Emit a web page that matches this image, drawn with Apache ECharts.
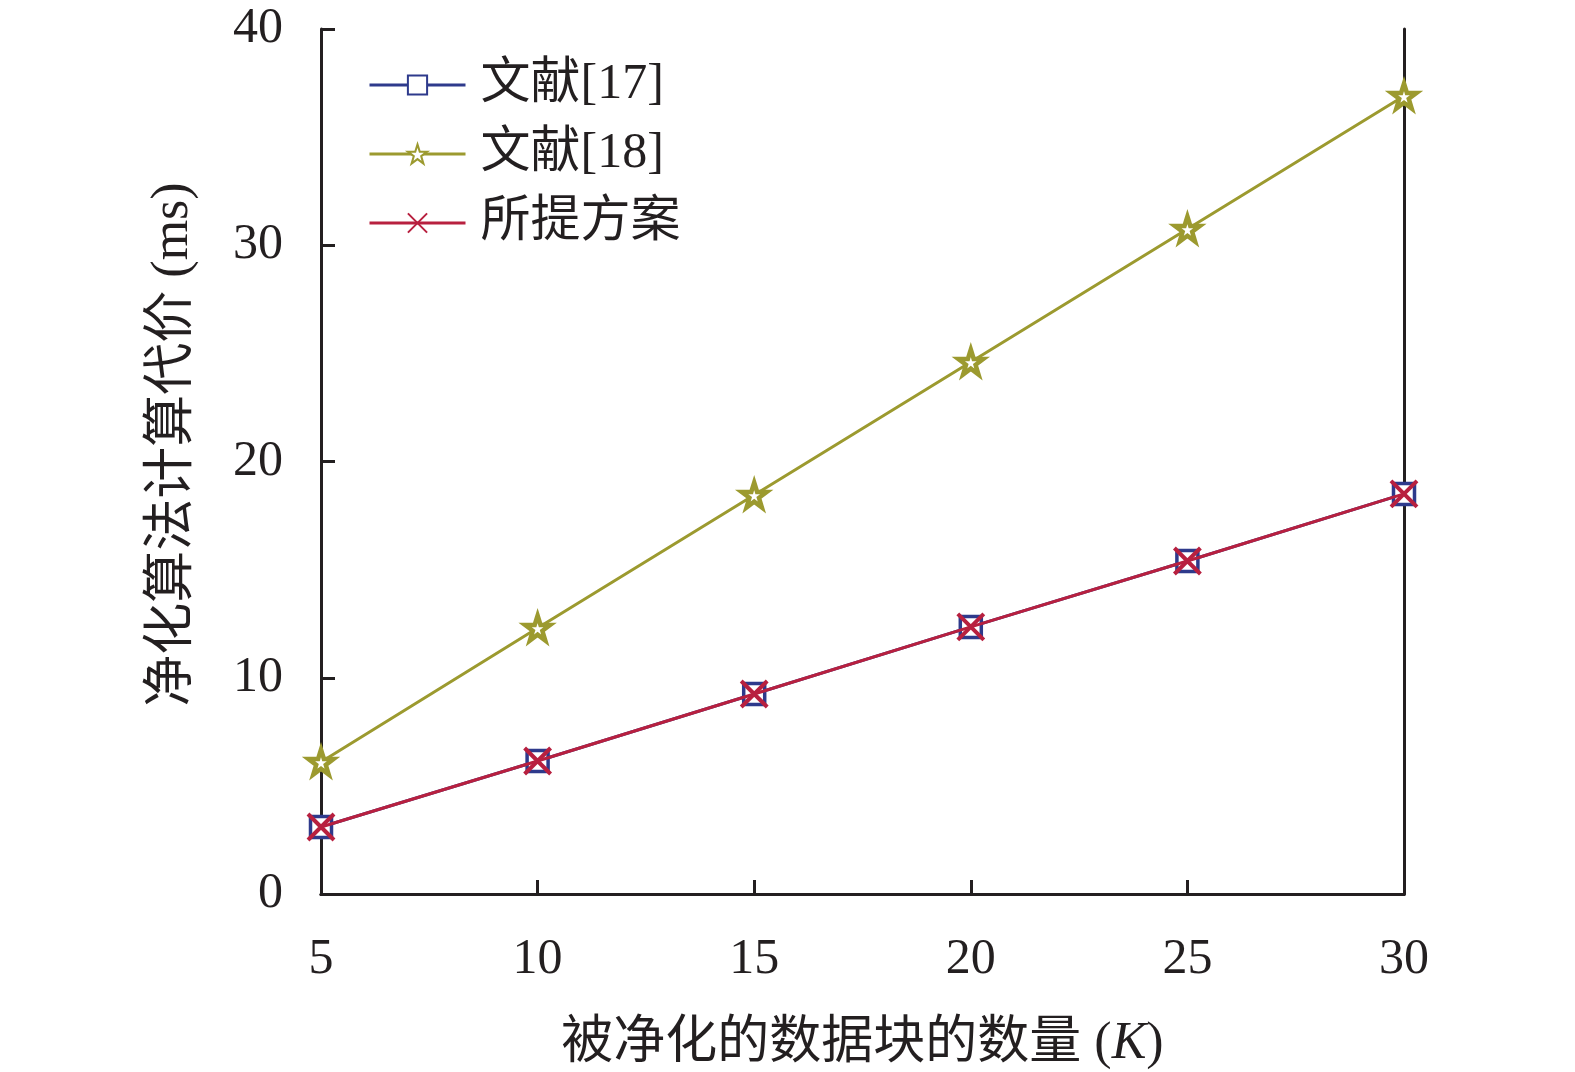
<!DOCTYPE html>
<html>
<head>
<meta charset="utf-8">
<script src="https://cdn.jsdelivr.net/npm/echarts@6/dist/echarts.min.js"></script>
<style>
  html, body { margin: 0; padding: 0; background: #fff; overflow: hidden; }
  #chart { width: 1575px; height: 1072px; }
</style>
</head>
<body>
<div id="chart"></div>
<script>
// 被净化的数据块的数量 (K)
const blockCounts = [5, 10, 15, 20, 25, 30]
// 净化算法计算代价 (ms)
const ref17 = [3.1, 6.15, 9.25, 12.35, 15.4, 18.5]
const ref18 = [6.1, 12.3, 18.45, 24.6, 30.75, 36.9]
const proposed = [3.1, 6.15, 9.25, 12.35, 15.4, 18.5]

const serif = '"Liberation Serif", "Times New Roman", "Noto Sans CJK SC", serif'
const starPath = 'path://M50,2 L61,36 L97,36 L68,57 L79,92 L50,71 L21,92 L32,57 L3,36 L39,36 Z'
const crossPath = 'path://M0,0 L10,10 M10,0 L0,10'
const ink = '#231f20'

const pairs = (ys) => blockCounts.map((x, i) => [x, ys[i]])

const myChart = echarts.init(document.getElementById('chart'))
myChart.setOption({
    backgroundColor: '#fff',
    animation: false,
    grid: { left: 321, right: 171, top: 29, bottom: 178, outerBoundsMode: 'none' },
    legend: {
        orient: 'vertical',
        left: 363,
        top: 55,
        itemWidth: 96,
        itemHeight: 24,
        itemGap: 19,
        lineStyle: { width: 3 },
        textStyle: { fontFamily: serif, fontSize: 50, color: ink, lineHeight: 50, padding: [0, 0, 0, 10] },
        data: ['文献[17]', '文献[18]', '所提方案']
    },
    xAxis: [
        {
            type: 'value',
            min: 5,
            max: 30,
            interval: 5,
            name: '{a|被净化的数据块的数量 (}{i|K}{a|)}',
            nameLocation: 'middle',
            nameGap: 124,
            nameTextStyle: {
                rich: {
                    a: { fontFamily: serif, fontSize: 52, color: ink },
                    i: { fontFamily: serif, fontSize: 52, color: ink, fontStyle: 'italic' }
                }
            },
            axisLine: { show: true, lineStyle: { color: ink, width: 3 } },
            axisTick: { show: true, inside: true, length: 14, lineStyle: { color: ink, width: 3 } },
            axisLabel: { fontFamily: serif, fontSize: 50, color: ink, margin: 41 },
            splitLine: { show: false }
        },
        {
            type: 'value',
            position: 'top',
            min: 5,
            max: 30,
            axisLine: { show: true, lineStyle: { color: ink, width: 3 } },
            axisTick: { show: false },
            axisLabel: { show: false },
            splitLine: { show: false }
        }
    ],
    yAxis: [
        {
            type: 'value',
            min: 0,
            max: 40,
            interval: 10,
            name: '净化算法计算代价 (ms)',
            nameLocation: 'middle',
            nameRotate: 90,
            nameGap: 122,
            nameTextStyle: { fontFamily: serif, fontSize: 52, color: ink, padding: [0, 0, 0, 34] },
            axisLine: { show: true, lineStyle: { color: ink, width: 3 } },
            axisTick: { show: true, inside: true, length: 14, lineStyle: { color: ink, width: 3 } },
            axisLabel: { fontFamily: serif, fontSize: 50, color: ink, margin: 38 },
            splitLine: { show: false }
        },
        {
            type: 'value',
            position: 'right',
            min: 0,
            max: 40,
            axisLine: { show: true, lineStyle: { color: ink, width: 3 } },
            axisTick: { show: false },
            axisLabel: { show: false },
            splitLine: { show: false }
        }
    ],
    series: [
        {
            name: '文献[17]',
            type: 'line',
            data: pairs(ref17),
            symbol: 'rect',
            symbolSize: 21,
            lineStyle: { color: '#2e3a8c', width: 3 },
            itemStyle: { color: '#fff', borderColor: '#2e3a8c', borderWidth: 3.5 },
            z: 2
        },
        {
            name: '文献[18]',
            type: 'line',
            data: pairs(ref18),
            symbol: starPath,
            symbolSize: 25,
            lineStyle: { color: '#9c9a2f', width: 3 },
            itemStyle: { color: '#fff', borderColor: '#9c9a2f', borderWidth: 4.5 },
            z: 3
        },
        {
            name: '所提方案',
            type: 'line',
            data: pairs(proposed),
            symbol: crossPath,
            symbolSize: 26,
            lineStyle: { color: '#b8203f', width: 3 },
            itemStyle: { color: 'none', borderColor: '#b8203f', borderWidth: 4 },
            z: 4
        }
    ]
})
window.addEventListener('resize', myChart.resize)
</script>
</body>
</html>
